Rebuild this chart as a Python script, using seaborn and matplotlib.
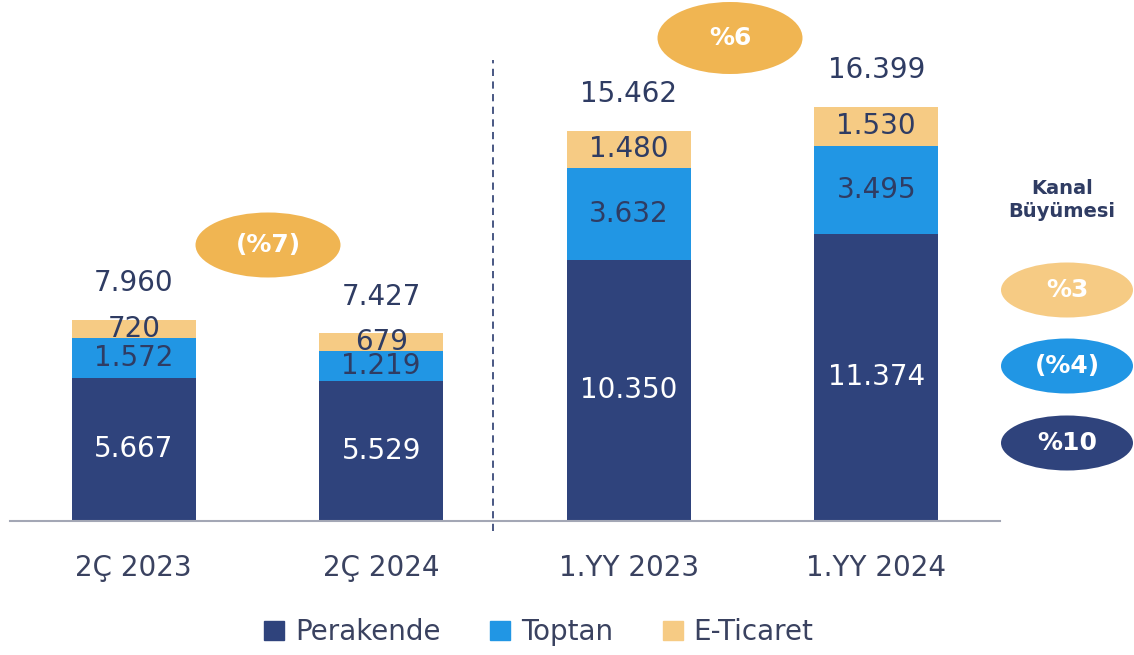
import numpy as np
import matplotlib.pyplot as plt
import seaborn as sns
from matplotlib.patches import Ellipse, Rectangle

# Veriler (milyon TL)
donemler = ["2Ç 2023", "2Ç 2024", "1.YY 2023", "1.YY 2024"]
perakende = [5667, 5529, 10350, 11374]
toptan = [1572, 1219, 3632, 3495]
eticaret = [720, 679, 1480, 1530]
toplam = [7960, 7427, 15462, 16399]

donem_buyume = ["(%7)", "%6"]
kanal_buyume = ["%3", "(%4)", "%10"]
kanallar = ["Perakende", "Toptan", "E-Ticaret"]

c_per = "#2F437C"
c_top = "#2196E4"
c_eti = "#F6CB84"
c_oval = "#F0B552"
c_txt = "#2F3C63"

def fmt(v):
    return f"{v:,}".replace(",", ".")

sns.set_style("white")
plt.rcParams['font.family'] = ['DejaVu Sans']

fig = plt.figure(figsize=(11.34, 6.55), dpi=100)
ax = fig.add_axes([10 / 1134, 134 / 655, 990 / 1134, 505 / 655])

kat1 = np.array(perakende) + np.array(toptan) + np.array(eticaret)
kat2 = np.array(perakende) + np.array(toptan)

for y, c in [(kat1, c_eti), (kat2, c_top), (perakende, c_per)]:
    sns.barplot(x=donemler, y=y, color=c, saturation=1, width=0.5, linewidth=0, ax=ax)

ax.set_xlim(-0.5, 3.5)
ax.set_ylim(0, 20000)
ax.set_yticks([])
ax.set_ylabel("")
sns.despine(ax=ax, left=True)
ax.spines['bottom'].set_color("#A3A7B5")
ax.spines['bottom'].set_linewidth(1.5)
ax.tick_params(axis='x', length=0, labelsize=20, colors="#3A4260", pad=24)

# segment etiketleri
for i in range(len(donemler)):
    p, t, e = perakende[i], toptan[i], eticaret[i]
    ax.text(i, p / 2, fmt(p), ha='center', va='center', color='white', fontsize=20)
    ax.text(i, p + t / 2, fmt(t), ha='center', va='center', color=c_txt, fontsize=20)
    ax.text(i, p + t + e / 2, fmt(e), ha='center', va='center', color=c_txt, fontsize=20)
    ax.text(i, toplam[i] + 1450, fmt(toplam[i]), ha='center', va='center', color=c_txt, fontsize=20)

# ayırıcı çizgi
ax.plot([1.45, 1.45], [-400, 18260], ls=(0, (4, 3)), color="#3A4A7A", lw=1.3, clip_on=False)

# büyüme ovalleri
def oval(cx, cy, w, h, renk, metin, fs=18):
    fig.patches.append(Ellipse((cx / 1134, 1 - cy / 655), w / 1134, h / 655,
                               transform=fig.transFigure, facecolor=renk, edgecolor='none'))
    fig.text(cx / 1134, 1 - cy / 655, metin, ha='center', va='center',
             color='white', fontsize=fs, fontweight='bold')

oval(268, 245, 145, 65, c_oval, donem_buyume[0])
oval(730, 38, 145, 72, c_oval, donem_buyume[1])

fig.text(1062 / 1134, 1 - 200 / 655, "Kanal\nBüyümesi", ha='center', va='center',
         color=c_txt, fontsize=14, fontweight='bold', linespacing=1.25)
for metin, renk, cy in zip(kanal_buyume, [c_eti, c_top, c_per], [290, 366, 443]):
    oval(1067, cy, 132, 55, renk, metin)

# lejant
handles = [Rectangle((0, 0), 1, 1, color=c) for c in [c_per, c_top, c_eti]]
fig.legend(handles, kanallar, loc='center', bbox_to_anchor=(539 / 1134, 1 - 632 / 655),
           ncol=3, frameon=False, fontsize=20, handlelength=0.7, handleheight=0.7,
           handletextpad=0.4, columnspacing=1.8, labelcolor="#3A4260")

fig.savefig("out.png", dpi=100)
